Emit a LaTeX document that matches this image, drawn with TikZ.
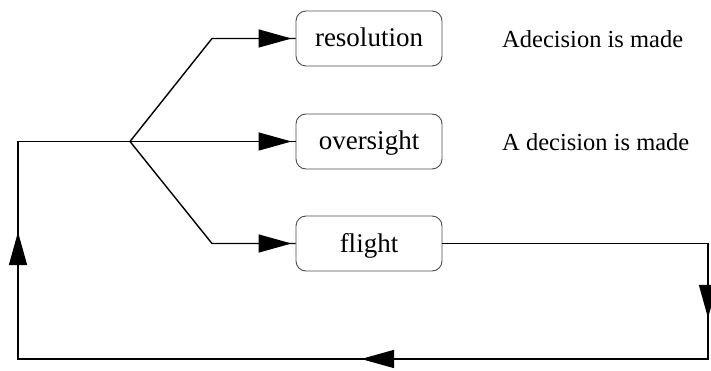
\documentclass[tikz,border=0pt]{standalone}
\usepackage{fontspec}
\setmainfont{Liberation Serif}
\usetikzlibrary{arrows.meta,decorations.markings}
\begin{document}
\begin{tikzpicture}[x=1pt,y=-1pt,
  box/.style={draw=black!70, line width=0.9pt, rounded corners=10pt, minimum width=146pt, minimum height=55pt, inner sep=0pt, text height=19pt, text depth=2pt, font=\fontsize{27}{30}\selectfont},
  lbl/.style={anchor=base west, inner sep=0pt, font=\fontsize{24.5}{28}\selectfont},
  conn/.style={line width=1.4pt},
  tipmark/.style={postaction={decorate}, decoration={markings, mark=at position #1 with {\arrow{Triangle[length=33pt,width=18pt]}}}},
]
\useasboundingbox (0,0) rectangle (711,371);
\node[box] (res) at (369,38.5) {resolution};
\node[box] (ove) at (369,141.5) {oversight};
\node[box] (fli) at (369,243.5) {flight};
\node[lbl] (l1) at (502,48) {Adecision is made};
\node[lbl] (l2) at (502,151) {A decision is made};
\coordinate (br) at (130,141.5);
\coordinate (ru) at (212,38.5);
\coordinate (rd) at (212,243.5);
\coordinate (c1) at (708,243.5);
\coordinate (c2) at (708,359);
\coordinate (c3) at (18,359);
\coordinate (c4) at (18,141.5);
\draw[conn, tipmark=-4pt] (br) -- (ru) -- (res.west);
\draw[conn, tipmark=-4pt] (br) -- (ove.west);
\draw[conn, tipmark=-4pt] (br) -- (rd) -- (fli.west);
\draw[conn, postaction={decorate}, decoration={markings,
  mark=at position 340pt with {\arrow{Triangle[length=33pt,width=18pt]}},
  mark=at position 728pt with {\arrow{Triangle[length=33pt,width=18pt]}},
  mark=at position 1198pt with {\arrow{Triangle[length=33pt,width=18pt]}}}]
  (fli.east) -- (c1) -- (c2) -- (c3) -- (c4) -- (br);
\end{tikzpicture}
\end{document}
